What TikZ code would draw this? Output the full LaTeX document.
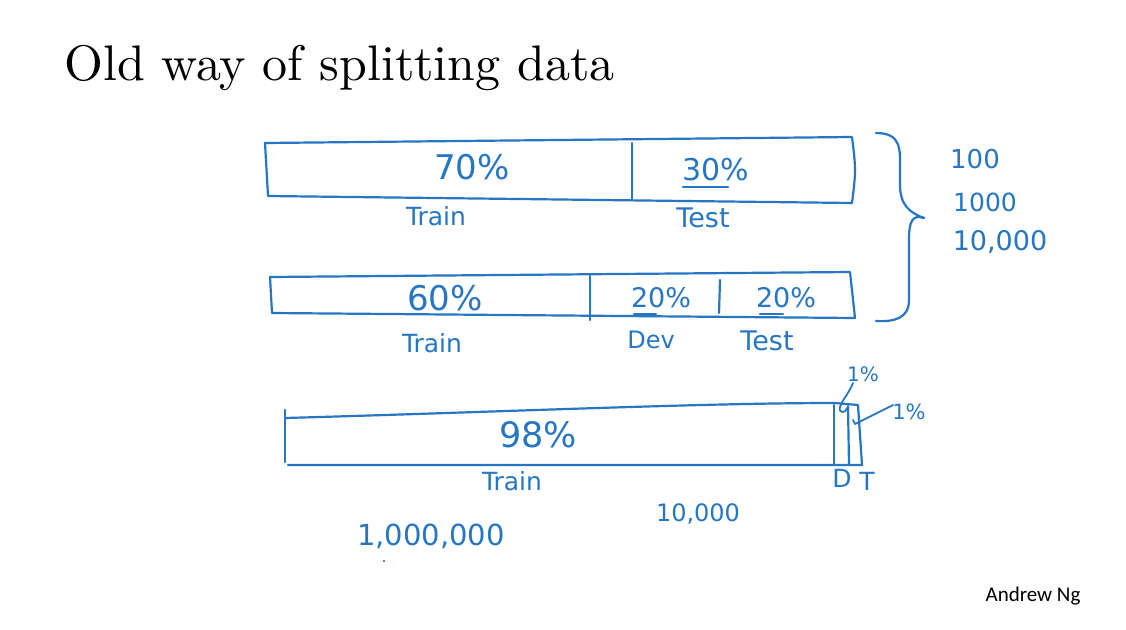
\documentclass[tikz,border=0pt]{standalone}
\usepackage{fontspec}
\newfontfamily\hand{DejaVu Sans}
\newfontfamily\calib{Carlito}
\newfontfamily\ttl{lmroman10-regular}[Extension=.otf]
\definecolor{inkblue}{RGB}{38,118,196}
\newcommand{\hs}[1]{\hand\fontsize{#1}{#1}\selectfont}
\begin{document}
\begin{tikzpicture}[x=1pt,y=-1pt,
  ink/.style={draw=inkblue,line width=2.2pt,line cap=round,line join=round},
  pct/.style={text=inkblue,font=\hs{34},inner sep=0},
  lab/.style={text=inkblue,font=\hs{25},inner sep=0},
  num/.style={text=inkblue,font=\hs{24},inner sep=0}]
\useasboundingbox (0,0) rectangle (1126,629);
\fill[white] (0,0) rectangle (1126,629);
% title
\node[anchor=base west,inner sep=0,font=\ttl\fontsize{50}{60}\selectfont] (title) at (64,80) {Old way of splitting data};
% bar 1
\coordinate (b1tl) at (265,143);
\coordinate (b1tr) at (852,137);
\coordinate (b1br) at (852,203);
\coordinate (b1bl) at (268,196);
\draw[ink] (b1tl) -- (b1tr) .. controls (856,170) .. (b1br) -- (b1bl) -- cycle;
\coordinate (d1t) at (632,143);
\coordinate (d1b) at (632,200);
\draw[ink] (d1t) -- (d1b);
\node[pct] (p70) at (472,167) {70\%};
\node[pct,font=\hs{30}] (p30) at (716,170) {30\%};
\coordinate (u1a) at (683,187);
\coordinate (u1b) at (728,187);
\draw[ink] (u1a) -- (u1b);
\node[lab] (train1) at (436,216) {Train};
\node[lab,font=\hs{27}] (test1) at (703,218) {Test};
% bar 2
\coordinate (b2tl) at (270,277);
\coordinate (b2tr) at (850,272);
\coordinate (b2br) at (855,318);
\coordinate (b2bl) at (272,313);
\draw[ink] (b2tl) -- (b2tr) -- (b2br) -- (b2bl) -- cycle;
\coordinate (d2t) at (590,276);
\coordinate (d2b) at (590,320);
\draw[ink] (d2t) -- (d2b);
\coordinate (d3t) at (720,280);
\coordinate (d3b) at (719,313);
\draw[ink] (d3t) -- (d3b);
\node[pct] (p60) at (445,298) {60\%};
\node[pct,font=\hs{27}] (p20a) at (661,298) {20\%};
\node[pct,font=\hs{27}] (p20b) at (786,298) {20\%};
\coordinate (u2a) at (634,314);
\coordinate (u2b) at (656,314);
\draw[ink] (u2a) -- (u2b);
\coordinate (u3a) at (760,314);
\coordinate (u3b) at (783,314);
\draw[ink] (u3a) -- (u3b);
\node[lab] (train2) at (432,343) {Train};
\node[lab,font=\hs{24}] (dev2) at (651,340) {Dev};
\node[lab,font=\hs{27}] (test2) at (767,341) {Test};
% brace
\coordinate (brt) at (876,133);
\coordinate (brtip) at (924,218);
\coordinate (brb) at (876,321);
\draw[ink] (brt) .. controls (902,133) and (900,150) .. (900,170)
  -- (900,185) .. controls (900,205) and (910,213) .. (brtip);
\draw[ink] (brtip) .. controls (912,214) and (909,222) .. (909,240)
  -- (909,300) .. controls (909,318) and (895,322) .. (brb);
\node[num,font=\hs{26}] (n100) at (975,159) {100};
\node[num,font=\hs{25}] (n1000) at (985,202) {1000};
\node[num,font=\hs{27}] (n10000) at (1000,242) {10,000};
% bar 3
\coordinate (b3tl) at (285,418);
\coordinate (b3lt) at (285,410);
\coordinate (b3tr) at (858,405);
\coordinate (b3br) at (862,465);
\coordinate (b3bl) at (288,465);
\coordinate (b3lb) at (285,462);
\draw[ink] (b3lt) -- (b3lb);
\draw[ink] (b3tl) .. controls (500,412) and (700,403) .. (835,403) -- (b3tr) -- (b3br) -- (b3bl);
\coordinate (d4t) at (834,405);
\coordinate (d4b) at (834,465);
\draw[ink] (d4t) -- (d4b);
\coordinate (d5t) at (848,406);
\coordinate (d5b) at (849,465);
\draw[ink] (d5t) -- (d5b);
\node[pct,font=\hs{35}] (p98) at (538,435) {98\%};
\node[lab] (train3) at (512,481) {Train};
\node[lab] (dd) at (842,478) {D};
\node[lab] (tt) at (867,481) {T};
\node[lab,font=\hs{20}] (p1a) at (863,374) {1\%};
\node[lab,font=\hs{21}] (p1b) at (909,412) {1\%};
\coordinate (a1s) at (853,383);
\coordinate (a1e) at (840,407);
\draw[ink,line width=1.8pt] (a1s) .. controls (848,395) and (842,400) .. (a1e)
  .. controls (838,413) and (846,414) .. (847,408);
\coordinate (a2s) at (893,405);
\coordinate (a2e) at (855,424);
\draw[ink,line width=1.8pt] (a2s) -- (a2e) -- (853,420);
% numbers
\node[num,font=\hs{24}] (n10k) at (698,514) {10,000};
\node[num,font=\hs{29}] (n1m) at (431,536) {1,000,000};
\fill[inkblue!70!black] (384,561) circle (1.2);
% footer
\node[anchor=base,inner sep=0,font=\calib\fontsize{21}{21}\selectfont] (author) at (1033,601) {Andrew Ng};
\end{tikzpicture}
\end{document}
